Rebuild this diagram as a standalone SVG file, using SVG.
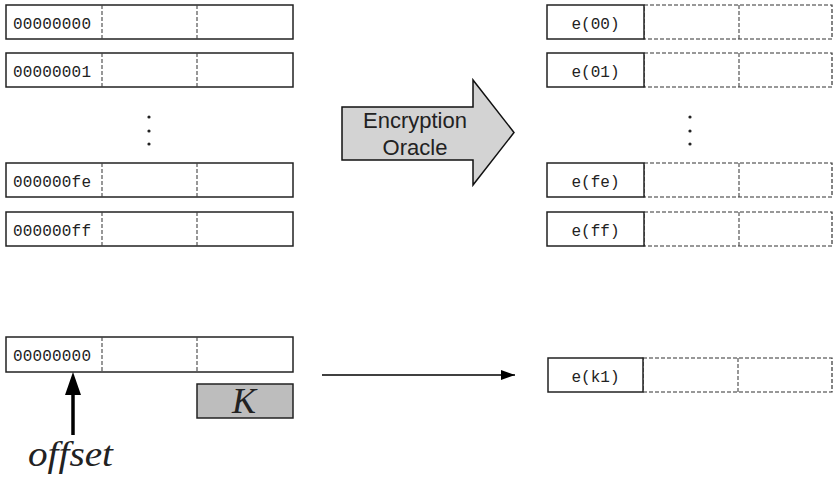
<svg xmlns="http://www.w3.org/2000/svg" width="833" height="480" viewBox="0 0 833 480">
  <style>
    .blk { fill: #fff; stroke: #222; stroke-width: 1.5; }
    .sep { stroke: #444; stroke-width: 1.1; stroke-dasharray: 4 2; }
    .ghost { fill: #fff; stroke: #333; stroke-width: 1.2; stroke-dasharray: 4 2; }
    .mono { font-family: "Liberation Mono", "DejaVu Sans Mono", monospace; font-size: 16px; fill: #222; }
    .dot { fill: #222; }
    .math { font-family: "Liberation Serif", "DejaVu Serif", serif; font-style: italic; fill: #222; }
  </style>
  <defs>
    <marker id="tip" viewBox="0 0 14 10" refX="14" refY="5" markerWidth="14" markerHeight="10" markerUnits="userSpaceOnUse" orient="auto">
      <path d="M0,0 L14,5 L0,10 z" fill="#000"/>
    </marker>
  </defs>

  <!-- plaintext blocks -->
  <g id="p00">
    <rect class="blk" x="6" y="5" width="287" height="34"/>
    <line class="sep" x1="102" y1="5" x2="102" y2="39"/>
    <line class="sep" x1="197" y1="5" x2="197" y2="39"/>
    <text class="mono" x="13" y="29" textLength="78">00000000</text>
  </g>
  <g id="p01">
    <rect class="blk" x="6" y="53" width="287" height="34"/>
    <line class="sep" x1="102" y1="53" x2="102" y2="87"/>
    <line class="sep" x1="197" y1="53" x2="197" y2="87"/>
    <text class="mono" x="13" y="77" textLength="78">00000001</text>
  </g>
  <g id="pdots">
    <circle class="dot" cx="149" cy="117" r="1.6"/>
    <circle class="dot" cx="149" cy="131" r="1.6"/>
    <circle class="dot" cx="149" cy="144" r="1.6"/>
  </g>
  <g id="pfe">
    <rect class="blk" x="6" y="163" width="287" height="34"/>
    <line class="sep" x1="102" y1="163" x2="102" y2="197"/>
    <line class="sep" x1="197" y1="163" x2="197" y2="197"/>
    <text class="mono" x="13" y="187" textLength="78">000000fe</text>
  </g>
  <g id="pff">
    <rect class="blk" x="6" y="212" width="287" height="34"/>
    <line class="sep" x1="102" y1="212" x2="102" y2="246"/>
    <line class="sep" x1="197" y1="212" x2="197" y2="246"/>
    <text class="mono" x="13" y="236" textLength="78">000000ff</text>
  </g>

  <!-- oracle -->
  <g id="oracle">
    <polygon points="342,107 473,107 473,80 514,132.5 473,185 473,160 342,160" fill="#d3d3d3" stroke="#111" stroke-width="1.5"/>
    <text x="415" y="128" text-anchor="middle" font-family="Liberation Sans, Arial, sans-serif" font-size="22" fill="#222">Encryption</text>
    <text x="415" y="155" text-anchor="middle" font-family="Liberation Sans, Arial, sans-serif" font-size="22" fill="#222">Oracle</text>
  </g>

  <!-- ciphertext blocks -->
  <g id="c00">
    <rect class="ghost" x="644" y="5" width="188" height="34"/>
    <line class="sep" x1="739" y1="5" x2="739" y2="39"/>
    <rect class="blk" x="547" y="5" width="97" height="34"/>
    <text class="mono" x="595.5" y="29" text-anchor="middle">e(00)</text>
  </g>
  <g id="c01">
    <rect class="ghost" x="644" y="53" width="188" height="34"/>
    <line class="sep" x1="739" y1="53" x2="739" y2="87"/>
    <rect class="blk" x="547" y="53" width="97" height="34"/>
    <text class="mono" x="595.5" y="77" text-anchor="middle">e(01)</text>
  </g>
  <g id="cdots">
    <circle class="dot" cx="690" cy="117" r="1.6"/>
    <circle class="dot" cx="690" cy="131" r="1.6"/>
    <circle class="dot" cx="690" cy="144" r="1.6"/>
  </g>
  <g id="cfe">
    <rect class="ghost" x="644" y="163" width="188" height="34"/>
    <line class="sep" x1="739" y1="163" x2="739" y2="197"/>
    <rect class="blk" x="547" y="163" width="97" height="34"/>
    <text class="mono" x="595.5" y="187" text-anchor="middle">e(fe)</text>
  </g>
  <g id="cff">
    <rect class="ghost" x="644" y="212" width="188" height="34"/>
    <line class="sep" x1="739" y1="212" x2="739" y2="246"/>
    <rect class="blk" x="547" y="212" width="97" height="34"/>
    <text class="mono" x="595.5" y="236" text-anchor="middle">e(ff)</text>
  </g>

  <!-- probe block with key -->
  <g id="probe">
    <rect class="blk" x="6" y="337" width="287" height="35"/>
    <line class="sep" x1="102" y1="337" x2="102" y2="372"/>
    <line class="sep" x1="197" y1="337" x2="197" y2="372"/>
    <text class="mono" x="13" y="361" textLength="78">00000000</text>
  </g>
  <g id="key">
    <rect x="197" y="384" width="96" height="34" fill="#bdbdbd" stroke="#222" stroke-width="1.5"/>
    <text class="math" x="244" y="413" text-anchor="middle" font-size="36">K</text>
  </g>
  <g id="offset">
    <text class="math" x="28" y="466" font-size="36" textLength="85" lengthAdjust="spacingAndGlyphs">offset</text>
  </g>
  <g id="ck1">
    <rect class="ghost" x="643" y="358" width="189" height="34"/>
    <line class="sep" x1="738" y1="358" x2="738" y2="392"/>
    <rect class="blk" x="548" y="358" width="95" height="34"/>
    <text class="mono" x="595.5" y="382" text-anchor="middle">e(k1)</text>
  </g>

  <!-- connectors -->
  <g id="connectors">
    <line x1="322" y1="375" x2="515" y2="375" stroke="#000" stroke-width="1.5" marker-end="url(#tip)"/>
    <line x1="73" y1="435" x2="73" y2="392" stroke="#000" stroke-width="3.5"/>
    <polygon points="73,372 81,395 65,395" fill="#000"/>
  </g>
</svg>
